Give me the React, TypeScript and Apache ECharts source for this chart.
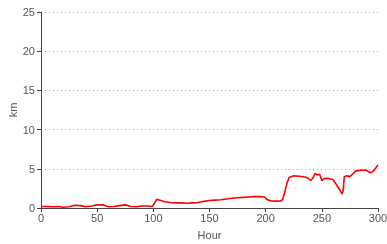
import React, { useEffect, useRef } from "react";
import * as echarts from "echarts";

const hours = [0,5,10,15,20,25,30,35,40,45,50,55,60,65,70,75,80,85,90,95,99,101,103,106,110,115,120,125,130,135,140,145,150,155,160,165,170,175,180,185,190,195,199,201,205,210,213,215,217,219,221,225,230,235,238,240,242,244,246,248,250,252,255,260,263,266,268,269,270,272,275,278,280,285,290,293,295,297,300];
const km = [0.2,0.2,0.15,0.2,0.1,0.15,0.35,0.3,0.15,0.25,0.4,0.4,0.15,0.2,0.3,0.4,0.2,0.15,0.25,0.25,0.2,0.6,1.1,1.0,0.8,0.7,0.65,0.65,0.6,0.65,0.7,0.85,0.95,1.0,1.05,1.15,1.25,1.3,1.35,1.4,1.45,1.45,1.4,1.1,0.9,0.88,0.9,1.05,2.0,3.2,3.9,4.1,4.05,3.95,3.8,3.5,3.8,4.4,4.2,4.3,3.5,3.75,3.8,3.6,3.0,2.3,1.8,2.2,4.0,4.1,4.0,4.4,4.7,4.85,4.8,4.5,4.6,4.9,5.5];

export default function App() {
  const ref = useRef<HTMLDivElement>(null);
  useEffect(() => {
    if (!ref.current) return;
    const chart = echarts.init(ref.current, null, { renderer: "svg" });
    const font = "'Liberation Sans', Arial, sans-serif";
    chart.setOption({
      animation: false,
      grid: { left: 41, right: 9, top: 12, bottom: 36, containLabel: false, outerBoundsMode: "none" },
      xAxis: {
        type: "value",
        min: 0,
        max: 300,
        interval: 50,
        name: "Hour",
        nameLocation: "middle",
        nameGap: 21,
        nameMoveOverlap: false,
        nameTextStyle: { color: "#555", fontSize: 11, fontFamily: font },
        axisLine: { show: true, lineStyle: { color: "#444", width: 1 } },
        axisTick: { show: true, length: 4, lineStyle: { color: "#444" } },
        axisLabel: { color: "#555", fontSize: 11, fontFamily: font, margin: 4 },
        splitLine: { show: false },
      },
      yAxis: {
        type: "value",
        min: 0,
        max: 25,
        interval: 5,
        name: "km",
        nameLocation: "middle",
        nameGap: 23,
        nameMoveOverlap: false,
        nameTextStyle: { color: "#555", fontSize: 11, fontFamily: font },
        axisLine: { show: true, lineStyle: { color: "#444", width: 1 } },
        axisTick: { show: true, length: 4, lineStyle: { color: "#444" } },
        axisLabel: { color: "#555", fontSize: 11, fontFamily: font, margin: 6 },
        splitLine: { show: true, lineStyle: { color: "#aaa", type: [1, 3], width: 1 } },
      },
      series: [
        {
          type: "line",
          data: hours.map((h, i) => [h, km[i]]),
          showSymbol: false,
          lineStyle: { color: "#ff0000", width: 1.6 },
          itemStyle: { color: "#ff0000" },
        },
      ],
    });
    return () => chart.dispose();
  }, []);
  return (
    <div
      ref={ref}
      style={{ position: "fixed", left: 0, top: 0, width: 387, height: 244 }}
    />
  );
}
